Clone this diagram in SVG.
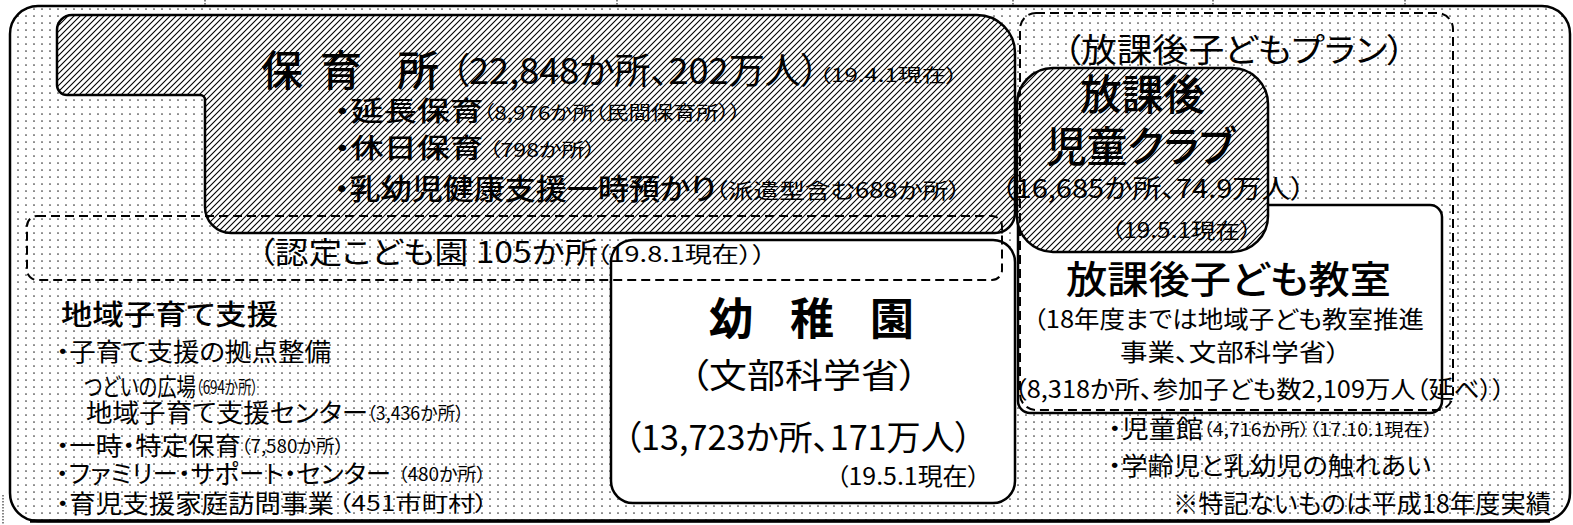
<svg xmlns="http://www.w3.org/2000/svg" width="1573" height="525" viewBox="0 0 1573 525">
<style>
text{font-family:"Noto Sans CJK JP","Noto Sans CJK SC",sans-serif;fill:#000;font-feature-settings:"palt" 1;}
.box{stroke:#000;stroke-width:2.5;}
.dash{fill:none;stroke:#000;stroke-width:2;stroke-dasharray:9 5;}
.b{font-weight:700;}
.m{font-weight:500;}
.tick{stroke:#333;stroke-width:1.2;stroke-dasharray:1.5 1.5;}
</style>
<defs>
<pattern id="dots" width="8" height="7" patternUnits="userSpaceOnUse">
<rect width="8" height="7" fill="#fff"/>
<circle cx="2" cy="2" r="0.85" fill="#333"/>
</pattern>
<pattern id="hatch" width="6" height="6" patternUnits="userSpaceOnUse">
<rect width="6" height="6" fill="#fff"/>
<path d="M-1,1 L1,-1 M0,6 L6,0 M5,7 L7,5" stroke="#000" stroke-width="1.1"/>
</pattern>
</defs>

<g id="ticks">
<line class="tick" x1="205" y1="0" x2="205" y2="6"/>
<line class="tick" x1="617" y1="0" x2="617" y2="6"/>
<line class="tick" x1="1013" y1="0" x2="1013" y2="6"/>
<line class="tick" x1="1213" y1="0" x2="1213" y2="6"/>
<line class="tick" x1="1405" y1="0" x2="1405" y2="6"/>
<line class="tick" x1="3" y1="495" x2="3" y2="525"/>
</g>

<g id="frame">
<rect x="10" y="6" width="1560" height="515" rx="28" fill="url(#dots)" stroke="#000" stroke-width="2.5"/>
<line x1="30" y1="521" x2="1550" y2="521" stroke="#000" stroke-width="3.5"/>
</g>

<g id="yochien">
<rect class="box" x="611" y="240" width="404" height="263" rx="22" fill="#fff"/>
<text class="b" font-size="44" x="709" y="335">幼</text>
<text class="b" font-size="44" x="790" y="335">稚</text>
<text class="b" font-size="44" x="870" y="335">園</text>
<text font-size="34" x="690" y="388" textLength="228" lengthAdjust="spacingAndGlyphs">（文部科学省）</text>
<text font-size="34" x="624" y="450" textLength="348" lengthAdjust="spacingAndGlyphs">（13,723か所、171万人）</text>
<text font-size="24" x="836" y="485" textLength="144" lengthAdjust="spacingAndGlyphs">（19.5.1現在）</text>
</g>

<g id="kyoshitsu">
<rect class="box" x="1018" y="205" width="424" height="208" rx="12" fill="#fff"/>
<text class="m" font-size="38" x="1066" y="293" textLength="325" lengthAdjust="spacingAndGlyphs">放課後子ども教室</text>
<text font-size="24" x="1033" y="328" textLength="391" lengthAdjust="spacingAndGlyphs">（18年度までは地域子ども教室推進</text>
<text font-size="24" x="1120" y="361" textLength="220" lengthAdjust="spacingAndGlyphs">事業、文部科学省）</text>
<text font-size="24" x="1014" y="398" textLength="491" lengthAdjust="spacingAndGlyphs">（8,318か所、参加子ども数2,109万人（延べ））</text>
</g>

<g id="hoikusho">
<path class="box" fill="url(#hatch)" d="M72,15 H977 A38,38 0 0 1 1015,53 V213 A20,20 0 0 1 995,233 H231 A26,26 0 0 1 205,207 V100 A5,5 0 0 0 200,95 H67 A10,10 0 0 1 57,85 V30 A15,15 0 0 1 72,15 Z"/>
<text class="m" font-size="42" x="261" y="86">保</text>
<text class="m" font-size="42" x="320" y="86">育</text>
<text class="m" font-size="42" x="397" y="86">所</text>
<text font-size="36" x="451" y="84" textLength="368" lengthAdjust="spacingAndGlyphs">（22,848か所、202万人）</text>
<text font-size="18" x="819" y="82" textLength="139" lengthAdjust="spacingAndGlyphs">（19.4.1現在）</text>
<text class="m" font-size="27" x="334" y="121" textLength="149" lengthAdjust="spacingAndGlyphs">・延長保育</text>
<text font-size="19" x="483" y="120" textLength="258" lengthAdjust="spacingAndGlyphs">（8,976か所（民間保育所））</text>
<text class="m" font-size="27" x="334" y="158" textLength="149" lengthAdjust="spacingAndGlyphs">・休日保育</text>
<text font-size="19" x="489" y="157" textLength="107" lengthAdjust="spacingAndGlyphs">（798か所）</text>
<text class="m" font-size="29" x="334" y="200" textLength="382" lengthAdjust="spacingAndGlyphs">・乳幼児健康支援一時預かり</text>
<text font-size="21" x="715" y="198" textLength="246" lengthAdjust="spacingAndGlyphs">（派遣型含む688か所）</text>
</g>

<g id="jidoclub">
<rect class="box" x="1017" y="68" width="251" height="184" rx="36" fill="url(#hatch)"/>
<text class="m" font-size="42" x="1080" y="110" textLength="125" lengthAdjust="spacingAndGlyphs">放課後</text>
<text class="m" font-size="42" x="1046" y="162" textLength="189" lengthAdjust="spacingAndGlyphs">児童クラブ</text>
<text font-size="26" x="1001" y="198" textLength="304" lengthAdjust="spacingAndGlyphs">（16,685か所、74.9万人）</text>
<text font-size="21" x="1111" y="238" textLength="141" lengthAdjust="spacingAndGlyphs">（19.5.1現在）</text>
</g>

<g id="plan">
<rect class="dash" x="1020" y="13" width="433" height="397" rx="16"/>
<text font-size="33" x="1063" y="62" textLength="342" lengthAdjust="spacingAndGlyphs">（放課後子どもプラン）</text>
</g>

<g id="nintei">
<rect class="dash" x="27" y="216" width="975" height="64" rx="10"/>
<text font-size="30" x="258" y="263" textLength="340" lengthAdjust="spacingAndGlyphs">（認定こども園 105か所</text>
<text font-size="22" x="596" y="262" textLength="170" lengthAdjust="spacingAndGlyphs">（19.8.1現在））</text>
</g>

<g id="chiiki">
<text class="m" font-size="28" x="61" y="325" textLength="217" lengthAdjust="spacingAndGlyphs">地域子育て支援</text>
<text font-size="25" x="56" y="361" textLength="275" lengthAdjust="spacingAndGlyphs">・子育て支援の拠点整備</text>
<text font-size="25" x="84" y="396" textLength="112" lengthAdjust="spacingAndGlyphs">つどいの広場</text>
<text font-size="18" x="196" y="394" textLength="62" lengthAdjust="spacingAndGlyphs">（694か所）</text>
<text font-size="25" x="86" y="422" textLength="282" lengthAdjust="spacingAndGlyphs">地域子育て支援センター</text>
<text font-size="18" x="367" y="420" textLength="97" lengthAdjust="spacingAndGlyphs">（3,436か所）</text>
<text font-size="25" x="56" y="455" textLength="185" lengthAdjust="spacingAndGlyphs">・一時・特定保育</text>
<text font-size="18" x="241" y="453" textLength="103" lengthAdjust="spacingAndGlyphs">（7,580か所）</text>
<text font-size="25" x="56" y="483" textLength="335" lengthAdjust="spacingAndGlyphs">・ファミリー・サポート・センター</text>
<text font-size="18" x="398" y="481" textLength="88" lengthAdjust="spacingAndGlyphs">（480か所）</text>
<text font-size="25" x="56" y="513" textLength="278" lengthAdjust="spacingAndGlyphs">・育児支援家庭訪問事業</text>
<text font-size="21" x="338" y="511" textLength="150" lengthAdjust="spacingAndGlyphs">（451市町村）</text>
</g>

<g id="other">
<text font-size="25" x="1108" y="438" textLength="95" lengthAdjust="spacingAndGlyphs">・児童館</text>
<text font-size="17" x="1203" y="436" textLength="230" lengthAdjust="spacingAndGlyphs">（4,716か所）（17.10.1現在）</text>
<text font-size="25" x="1108" y="475" textLength="323" lengthAdjust="spacingAndGlyphs">・学齢児と乳幼児の触れあい</text>
<text font-size="25" x="1173" y="513" textLength="378" lengthAdjust="spacingAndGlyphs">※特記ないものは平成18年度実績</text>
</g>
</svg>
